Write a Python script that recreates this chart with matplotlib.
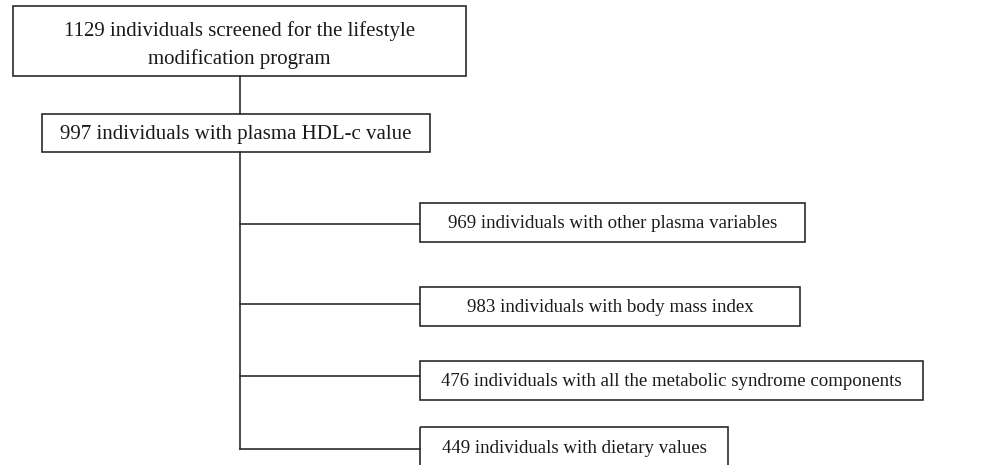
import matplotlib
matplotlib.use("Agg")
import matplotlib.pyplot as plt
from matplotlib.patches import Rectangle

top_label = "1129 individuals screened for the lifestyle\nmodification program"
hdl_label = "997 individuals with plasma HDL-c value"
branch_labels = [
    "969 individuals with other plasma variables",
    "983 individuals with body mass index",
    "476 individuals with all the metabolic syndrome components",
    "449 individuals with dietary values",
]

W, H = 984, 465
fig = plt.figure(figsize=(W / 100, H / 100), dpi=100)
ax = fig.add_axes([0, 0, 1, 1])
ax.set_xlim(0, W)
ax.set_ylim(H, 0)
ax.axis("off")

lc = "#2b2b2b"
lw = 1.2
fam = ["Liberation Serif", "DejaVu Serif"]
tc = "#1a1a1a"


def box(x0, y0, x1, y1, text, fs, ty=None, ls=1.2):
    ax.add_patch(Rectangle((x0, y0), x1 - x0, y1 - y0, fill=False, ec=lc, lw=lw))
    cy = (y0 + y1) / 2 if ty is None else ty
    ax.text((x0 + x1) / 2, cy, text, ha="center", va="center",
            linespacing=ls, family=fam, fontsize=fs, color=tc)


# top box
box(13, 6, 466, 76, top_label, 15, ty=45, ls=1.55)
ax.plot([240, 240], [76, 114], color=lc, lw=lw)
# HDL box
box(42, 114, 430, 152, hdl_label, 15, ty=134)

# branch boxes
branch_y = [(203, 242), (287, 326), (361, 400), (427, 475)]
branch_right = [805, 800, 923, 728]
mid_y = [224, 304, 376, 449]
ax.plot([240, 240], [152, mid_y[-1]], color=lc, lw=lw)
for (y0, y1), xr, my, lab in zip(branch_y, branch_right, mid_y, branch_labels):
    ax.plot([240, 420], [my, my], color=lc, lw=lw)
    ax.add_patch(Rectangle((420, y0), xr - 420, y1 - y0, fill=False, ec=lc, lw=lw))
    cy = (y0 + y1) / 2 + 1 if y1 < H else 448
    ax.text((420 + xr) / 2, cy, lab, ha="center", va="center",
            family=fam, fontsize=13.6, color=tc)

fig.savefig("out.png", dpi=100)
